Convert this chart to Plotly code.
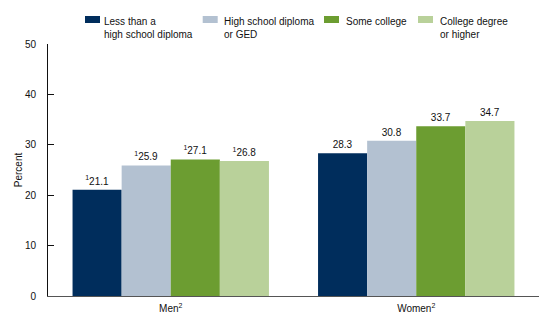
import plotly.graph_objects as go

categories = ["Men<sup>2</sup>", "Women<sup>2</sup>"]
series_names = ["Less than a<br>high school diploma", "High school diploma<br>or GED",
                "Some college", "College degree<br>or higher"]
colors = ["#002D5C", "#B3C1D1", "#6C9D31", "#B9D19A"]
# values per series: [Men, Women]
less_than_hs = [21.1, 28.3]
hs_diploma = [25.9, 30.8]
some_college = [27.1, 33.7]
college_degree = [26.8, 34.7]
series_values = [less_than_hs, hs_diploma, some_college, college_degree]
# footnote marker on the value label, per category
footnote = ["<sup>1</sup>", ""]
y_ticks = [0, 10, 20, 30, 40, 50]

W, H = 560, 327
L, R, T, B = 48, 21, 44, 31
pw, ph = W - L - R, H - T - B

def px_x(x):
    return (x - L) / pw

def px_y(y):
    return (H - B - y) / ph

font = "Liberation Sans"
fig = go.Figure()
for name, vals, col in zip(series_names, series_values, colors):
    fig.add_trace(go.Bar(
        x=categories, y=vals, name=name, marker=dict(color=col, line=dict(width=0)),
        text=[f + f"{v:.1f}" for f, v in zip(footnote, vals)],
        textposition="outside", textfont=dict(size=10, color="#111", family=font),
        cliponaxis=False, showlegend=False,
    ))

# manual legend (layout)
sw_left = [85, 202.7, 324, 418]
txt_left = [103.3, 222.7, 345, 439.3]
shapes = []
annotations = []
for i, (name, col) in enumerate(zip(series_names, colors)):
    shapes.append(dict(type="rect", xref="paper", yref="paper",
                       x0=px_x(sw_left[i]), x1=px_x(sw_left[i] + 15),
                       y0=px_y(23), y1=px_y(16), fillcolor=col, line=dict(width=0)))
    annotations.append(dict(xref="paper", yref="paper", x=px_x(txt_left[i] - 1), y=px_y(13.5),
                            xanchor="left", yanchor="top", align="left", showarrow=False,
                            text=name, font=dict(size=10, color="#111", family=font)))

fig.update_layout(
    width=W, height=H, margin=dict(l=L, r=R, t=T, b=B),
    paper_bgcolor="white", plot_bgcolor="white",
    barmode="group", bargap=0.2, bargroupgap=0,
    font=dict(family=font, size=10, color="#111"),
    shapes=shapes, annotations=annotations,
    xaxis=dict(showline=True, linecolor="#555", linewidth=1, ticks="", showgrid=False,
               tickfont=dict(size=10), ticklabelstandoff=3),
    yaxis=dict(range=[0, 50], tickvals=y_ticks, ticks="inside", ticklen=6, tickcolor="#111",
               showline=True, linecolor="#111", linewidth=1, showgrid=False, zeroline=False,
               tickfont=dict(size=10), ticklabelstandoff=9,
               title=dict(text="Percent", font=dict(size=10), standoff=0)),
)
fig.write_html("out.html")
